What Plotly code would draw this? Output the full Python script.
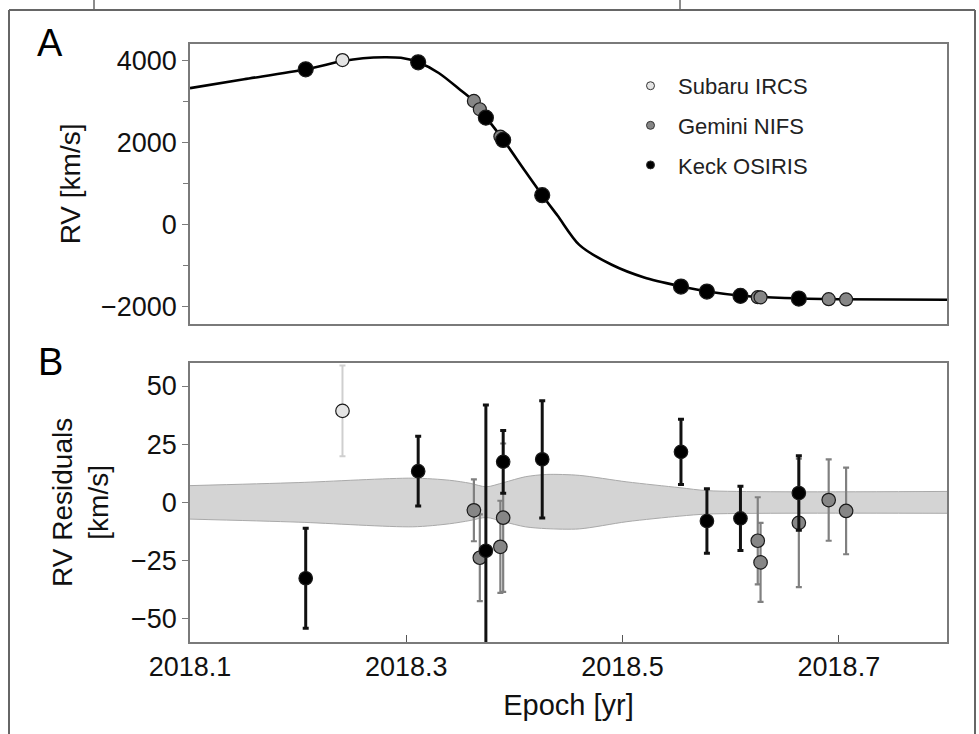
import plotly.graph_objects as go

# ---------------- data ----------------
curve_epoch = [2018.10, 2018.15, 2018.207, 2018.241, 2018.26, 2018.28, 2018.295, 2018.311,
               2018.33, 2018.35, 2018.362, 2018.374, 2018.39, 2018.41, 2018.4257, 2018.44,
               2018.46, 2018.49, 2018.52, 2018.553, 2018.58, 2018.61, 2018.65, 2018.70, 2018.80]
curve_rv = [3330, 3545, 3790, 3990, 4060, 4085, 4070, 3960,
            3700, 3285, 3020, 2610, 2060, 1300, 717, 215,
            -495, -980, -1290, -1500, -1640, -1735, -1790, -1820, -1835]

keck_epoch = [2018.207, 2018.311, 2018.3736, 2018.3896, 2018.4257, 2018.554, 2018.578, 2018.609, 2018.663]
keck_rv = [3790, 3960, 2610, 2066, 717, -1512, -1634, -1739, -1805]
keck_res = [-32.6, 13.4, -20.8, 17.4, 18.5, 21.7, -8.0, -6.9, 4.0]
keck_err = [21.5, 15.0, 62.6, 13.5, 25.2, 14.0, 13.9, 13.8, 16.0]

gemini_epoch = [2018.3625, 2018.368, 2018.387, 2018.3896, 2018.625, 2018.6276, 2018.663, 2018.6906, 2018.7067]
gemini_rv = [3017, 2815, 2147, 2060, -1771, -1775, -1808, -1820, -1825]
gemini_res = [-3.4, -23.8, -19.1, -6.6, -16.5, -25.8, -8.8, 1.0, -3.7]
gemini_err = [13.3, 18.6, 19.8, 31.9, 18.7, 17.0, 27.6, 17.5, 18.6]

subaru_epoch = [2018.241]
subaru_rv = [4015]
subaru_res = [39.3]
subaru_err = [19.5]

band_epoch = [2018.10, 2018.20, 2018.306, 2018.34, 2018.359, 2018.374, 2018.39, 2018.41,
              2018.43, 2018.46, 2018.504, 2018.553, 2018.58, 2018.80]
band_upper = [7.2, 8.5, 10.4, 9.5, 8.2, 6.7, 8.5, 11.0, 12.0, 11.6, 8.8, 6.3, 5.0, 4.7]
band_lower = [-7.2, -8.5, -10.5, -9.2, -7.8, -6.5, -8.3, -10.5, -11.3, -11.4, -8.3, -5.9, -5.0, -4.7]

instruments = ["Subaru IRCS", "Gemini NIFS", "Keck OSIRIS"]
rv_ticks = [-2000, 0, 2000, 4000]
res_ticks = [-50, -25, 0, 25, 50]
epoch_ticks = [2018.1, 2018.3, 2018.5, 2018.7]

# ---------------- styles ----------------
FONT = "Liberation Sans, Arial, Helvetica, sans-serif"
AXC = "#7a7a7a"
fill = {"Subaru IRCS": "#e4e4e4", "Gemini NIFS": "#868686", "Keck OSIRIS": "#000000"}
errc = {"Subaru IRCS": "#cfcfcf", "Gemini NIFS": "#808080", "Keck OSIRIS": "#111111"}
errw = {"Subaru IRCS": 2, "Gemini NIFS": 2.2, "Keck OSIRIS": 3}

fig = go.Figure()

# Panel A: model curve
fig.add_trace(go.Scatter(x=curve_epoch, y=curve_rv, mode="lines",
                         line=dict(color="black", width=2.6, shape="spline", smoothing=0.8),
                         xaxis="x", yaxis="y", showlegend=False, hoverinfo="skip"))

series = {
    "Gemini NIFS": (gemini_epoch, gemini_rv, gemini_res, gemini_err),
    "Subaru IRCS": (subaru_epoch, subaru_rv, subaru_res, subaru_err),
    "Keck OSIRIS": (keck_epoch, keck_rv, keck_res, keck_err),
}
sizeA = {"Subaru IRCS": 13, "Gemini NIFS": 13, "Keck OSIRIS": 15}

for name, (ep, rv, res, err) in series.items():
    fig.add_trace(go.Scatter(x=ep, y=rv, mode="markers", xaxis="x", yaxis="y",
                             marker=dict(size=sizeA[name], color=fill[name],
                                         line=dict(color="#1a1a1a", width=1.2)),
                             showlegend=False, name=name))

# Panel B: uncertainty band
fig.add_trace(go.Scatter(x=band_epoch, y=band_lower, mode="lines", xaxis="x2", yaxis="y2",
                         line=dict(color="#a9a9a9", width=1, shape="spline", smoothing=0.8),
                         showlegend=False, hoverinfo="skip"))
fig.add_trace(go.Scatter(x=band_epoch, y=band_upper, mode="lines", xaxis="x2", yaxis="y2",
                         line=dict(color="#a9a9a9", width=1, shape="spline", smoothing=0.8),
                         fill="tonexty", fillcolor="#d4d4d4",
                         showlegend=False, hoverinfo="skip"))

for name, (ep, rv, res, err) in series.items():
    fig.add_trace(go.Scatter(x=ep, y=res, mode="markers", xaxis="x2", yaxis="y2",
                             error_y=dict(type="data", array=err, visible=True,
                                          color=errc[name], thickness=errw[name], width=3),
                             marker=dict(size=13.5, color=fill[name],
                                         line=dict(color="#1a1a1a", width=1.2)),
                             showlegend=False, name=name))

# legend-only entries (small markers)
for name in instruments:
    fig.add_trace(go.Scatter(x=[None], y=[None], mode="markers", xaxis="x", yaxis="y",
                             name=name, legendgroup=name,
                             marker=dict(size=8, color=fill[name],
                                         line=dict(color="#333333", width=1))))

axis_common = dict(showline=True, linecolor=AXC, linewidth=1.5, mirror=True,
                   showgrid=False, zeroline=False,
                   tickfont=dict(family=FONT, size=27, color="#111111"))

fig.update_layout(
    width=979, height=734,
    margin=dict(l=190, r=32, t=44, b=92),
    paper_bgcolor="white", plot_bgcolor="white",
    font=dict(family=FONT, color="#111111"),
    xaxis=dict(domain=[0, 1], anchor="y", range=[2018.1, 2018.8],
               showticklabels=False, ticks="", **axis_common),
    yaxis=dict(domain=[0.532, 1], anchor="x", range=[-2422, 4407],
               tickmode="array", tickvals=rv_ticks, ticks="outside", ticklen=6,
               tickcolor=AXC, tickwidth=1.2,
               minor=dict(dtick=1000, tick0=1000, ticks="outside", ticklen=5,
                          tickcolor=AXC, tickwidth=1),
               title=dict(text="RV [km/s]", font=dict(family=FONT, size=28), standoff=12),
               **axis_common),
    xaxis2=dict(domain=[0, 1], anchor="y2", range=[2018.1, 2018.8],
                tickmode="array", tickvals=epoch_ticks, ticktext=[f"{v:.1f}" for v in epoch_ticks],
                ticks="inside", ticklen=7, tickcolor="#555555", tickwidth=1.2,
                title=dict(text="Epoch [yr]", font=dict(family=FONT, size=29), standoff=14),
                **axis_common),
    yaxis2=dict(domain=[0, 0.467], anchor="x2", range=[-60, 60],
                tickmode="array", tickvals=res_ticks, ticks="outside", ticklen=6,
                tickcolor=AXC, tickwidth=1.2,
                title=dict(text="RV Residuals<br>[km/s]", font=dict(family=FONT, size=28), standoff=14),
                **axis_common),
    legend=dict(x=0.572, y=0.965, xanchor="left", yanchor="top",
                bgcolor="rgba(0,0,0,0)", borderwidth=0,
                font=dict(family=FONT, size=22, color="#222222"),
                itemwidth=45, tracegroupgap=8, traceorder="grouped"),
    showlegend=True,
)

# panel letters
fig.add_annotation(text="A", xref="paper", yref="paper", x=(50 - 190) / 757, y=1 - (43 - 44) / 598,
                   showarrow=False, font=dict(family=FONT, size=38, color="black"),
                   xanchor="center", yanchor="middle")
fig.add_annotation(text="B", xref="paper", yref="paper", x=(50 - 190) / 757, y=1 - (362 - 44) / 598,
                   showarrow=False, font=dict(family=FONT, size=38, color="black"),
                   xanchor="center", yanchor="middle")

# surrounding frame of the figure panel
def px(xp):
    return (xp - 190) / 757

def py(yp):
    return 1 - (yp - 44) / 598

frame = dict(color="#666666", width=2)
fig.add_shape(type="line", xref="paper", yref="paper", x0=px(9), x1=px(975), y0=py(10), y1=py(10), line=frame)
fig.add_shape(type="line", xref="paper", yref="paper", x0=px(9), x1=px(9), y0=py(10), y1=py(745), line=frame)
fig.add_shape(type="line", xref="paper", yref="paper", x0=px(975), x1=px(975), y0=py(10), y1=py(745), line=frame)
fig.add_shape(type="line", xref="paper", yref="paper", x0=px(94), x1=px(94), y0=py(-5), y1=py(10),
              line=dict(color="#666666", width=1.5))
fig.add_shape(type="line", xref="paper", yref="paper", x0=px(680), x1=px(680), y0=py(-5), y1=py(10),
              line=dict(color="#666666", width=1.5))

fig.write_html("out.html", config={"displayModeBar": False},
               post_script="document.body.style.margin='0';")
